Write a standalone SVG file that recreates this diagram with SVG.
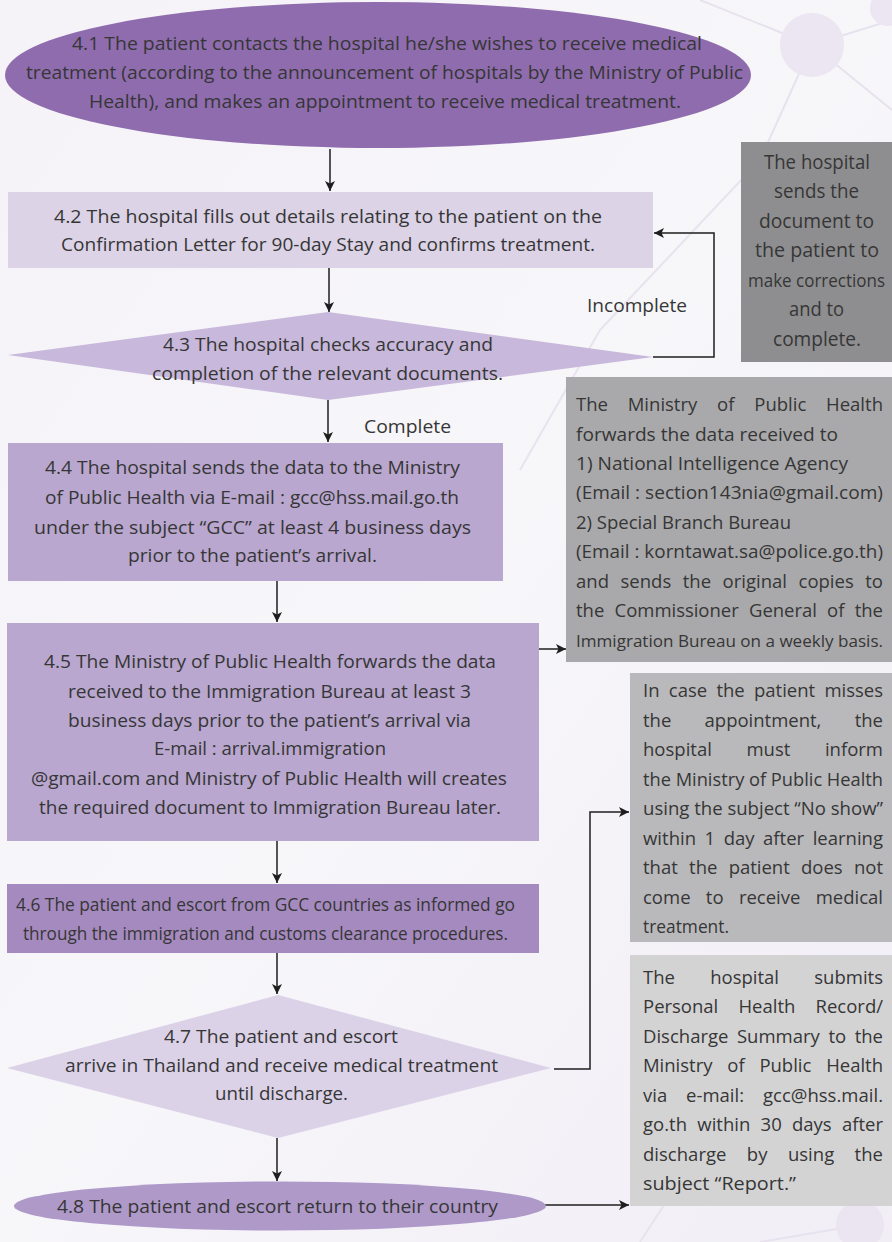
<svg xmlns="http://www.w3.org/2000/svg" width="892" height="1242" viewBox="0 0 892 1242">
<defs>
<marker id="ah" viewBox="0 0 10 10" refX="10" refY="5" markerWidth="11" markerHeight="10" markerUnits="userSpaceOnUse" orient="auto">
<path d="M0,0 L10,5 L0,10 L2.5,5 z" fill="#1e1e1e"/>
</marker>
<linearGradient id="bg" x1="0" y1="0" x2="1" y2="1">
<stop offset="0" stop-color="#f5f3f8"/>
<stop offset="0.5" stop-color="#f7f6f9"/>
<stop offset="1" stop-color="#f1eef6"/>
</linearGradient>
<style>
.t{font-family:"Open Sans","Noto Sans",sans-serif;font-size:18.5px;fill:#363636}
.g1{font-size:19.5px}
.nar{font-size:17px}
.c{stroke:#1e1e1e;stroke-width:1.5;fill:none;marker-end:url(#ah)}
.deco{stroke:#e6e1ed;stroke-width:2;fill:none}
.decoc{fill:#eae5f1}
</style>
</defs>
<rect x="0" y="0" width="892" height="1242" fill="url(#bg)"/>
<g id="background-decoration" opacity="0.9">
<path class="deco" d="M812,45 L892,20 M812,45 L760,160 M812,45 L700,0 M812,45 L892,110 M760,160 L600,330 M600,330 L520,470 M640,1242 L700,1150 M860,1225 L892,1180 M860,1225 L760,1242"/>
<circle class="decoc" cx="812" cy="45" r="32"/>
<circle class="decoc" cx="888" cy="8" r="18"/>
<circle class="decoc" cx="860" cy="1225" r="24"/>
</g>
<g id="connectors">
<path class="c" d="M330,149 V191"/>
<path class="c" d="M329,268 V312"/>
<path class="c" d="M328,400 V442"/>
<path class="c" d="M653,357 H714 V233 H654"/>
<path class="c" d="M277,581 V622"/>
<path class="c" d="M539,649 H566"/>
<path class="c" d="M277,841 V883"/>
<path class="c" d="M277,953 V994"/>
<path class="c" d="M277,1138 V1181"/>
<path class="c" d="M554,1069 H590 V812 H629"/>
<path class="c" d="M545,1205 H629"/>
</g>
<g id="label-incomplete"><text class="t" x="587" y="312" textLength="100" lengthAdjust="spacingAndGlyphs">Incomplete</text></g>
<g id="label-complete"><text class="t" x="364" y="433" textLength="87" lengthAdjust="spacingAndGlyphs">Complete</text></g>
<g id="n41">
<ellipse cx="378" cy="75" rx="373" ry="73" fill="#8f6cae"/>
<text class="t" x="72" y="50" textLength="630" lengthAdjust="spacingAndGlyphs">4.1 The patient contacts the hospital he/she wishes to receive medical</text>
<text class="t" x="26" y="79" textLength="717" lengthAdjust="spacingAndGlyphs">treatment (according to the announcement of hospitals by the Ministry of Public</text>
<text class="t" x="89" y="108" textLength="592" lengthAdjust="spacingAndGlyphs">Health), and makes an appointment to receive medical treatment.</text>
</g>
<g id="n42">
<rect x="8" y="192" width="645" height="76" fill="#dcd3e7"/>
<text class="t" x="54" y="223" textLength="548" lengthAdjust="spacingAndGlyphs">4.2 The hospital fills out details relating to the patient on the</text>
<text class="t" x="61" y="251" textLength="534" lengthAdjust="spacingAndGlyphs">Confirmation Letter for 90-day Stay and confirms treatment.</text>
</g>
<g id="n43">
<polygon points="8,355 328,312 653,357 328,400" fill="#c8b8db"/>
<text class="t" x="163" y="351" textLength="330" lengthAdjust="spacingAndGlyphs">4.3 The hospital checks accuracy and</text>
<text class="t" x="152" y="380" textLength="351" lengthAdjust="spacingAndGlyphs">completion of the relevant documents.</text>
</g>
<g id="n-return">
<rect x="741" y="142" width="151" height="220" fill="#8e8e90"/>
<text class="t g1" x="764" y="169" textLength="106" lengthAdjust="spacingAndGlyphs">The hospital</text>
<text class="t g1" x="774" y="198" textLength="85" lengthAdjust="spacingAndGlyphs">sends the</text>
<text class="t g1" x="759" y="228" textLength="115" lengthAdjust="spacingAndGlyphs">document to</text>
<text class="t g1" x="755" y="257" textLength="124" lengthAdjust="spacingAndGlyphs">the patient to</text>
<text class="t" style="font-size:17.5px" x="748" y="287" textLength="137" lengthAdjust="spacingAndGlyphs">make corrections</text>
<text class="t g1" x="789" y="316" textLength="55" lengthAdjust="spacingAndGlyphs">and to</text>
<text class="t g1" x="773" y="346" textLength="88" lengthAdjust="spacingAndGlyphs">complete.</text>
</g>
<g id="n44">
<rect x="8" y="443" width="495" height="138" fill="#b9a7cf"/>
<text class="t" x="45" y="474" textLength="415" lengthAdjust="spacingAndGlyphs">4.4 The hospital sends the data to the Ministry</text>
<text class="t" x="45" y="504" textLength="414" lengthAdjust="spacingAndGlyphs">of Public Health via E-mail : gcc@hss.mail.go.th</text>
<text class="t" x="34" y="534" textLength="437" lengthAdjust="spacingAndGlyphs">under the subject “GCC” at least 4 business days</text>
<text class="t" x="128" y="562" textLength="249" lengthAdjust="spacingAndGlyphs">prior to the patient’s arrival.</text>
</g>
<g id="n-forward">
<rect x="566" y="377" width="326" height="285" fill="#a9a9ab"/>
<text class="t" x="576" y="411" textLength="307" lengthAdjust="spacing" style="word-spacing:15px">The Ministry of Public Health</text>
<text class="t" x="576" y="441" textLength="262" lengthAdjust="spacingAndGlyphs">forwards the data received to</text>
<text class="t" x="576" y="470" textLength="272" lengthAdjust="spacingAndGlyphs">1) National Intelligence Agency</text>
<text class="t" x="576" y="499" textLength="307" lengthAdjust="spacingAndGlyphs">(Email : section143nia@gmail.com)</text>
<text class="t" x="576" y="529" textLength="215" lengthAdjust="spacingAndGlyphs">2) Special Branch Bureau</text>
<text class="t" x="576" y="558" textLength="307" lengthAdjust="spacingAndGlyphs">(Email : korntawat.sa@police.go.th)</text>
<text class="t" x="576" y="588" textLength="307" lengthAdjust="spacing" style="word-spacing:6.7px">and sends the original copies to</text>
<text class="t" x="576" y="617" textLength="307" lengthAdjust="spacing" style="word-spacing:5.5px">the Commissioner General of the</text>
<text class="t nar" x="576" y="647" textLength="307" lengthAdjust="spacingAndGlyphs">Immigration Bureau on a weekly basis.</text>
</g>
<g id="n45">
<rect x="7" y="623" width="532" height="218" fill="#b9a7cf"/>
<text class="t" x="44" y="668" textLength="452" lengthAdjust="spacingAndGlyphs">4.5 The Ministry of Public Health forwards the data</text>
<text class="t" x="68" y="698" textLength="403" lengthAdjust="spacingAndGlyphs">received to the Immigration Bureau at least 3</text>
<text class="t" x="68" y="727" textLength="403" lengthAdjust="spacingAndGlyphs">business days prior to the patient’s arrival via</text>
<text class="t" x="154" y="755" textLength="232" lengthAdjust="spacingAndGlyphs">E-mail : arrival.immigration</text>
<text class="t" x="31" y="785" textLength="476" lengthAdjust="spacingAndGlyphs">@gmail.com and Ministry of Public Health will creates</text>
<text class="t" x="39" y="814" textLength="462" lengthAdjust="spacingAndGlyphs">the required document to Immigration Bureau later.</text>
</g>
<g id="n-noshow">
<rect x="630" y="673" width="262" height="269" fill="#b9b9bb"/>
<text class="t" x="643" y="697" textLength="240" lengthAdjust="spacing" style="word-spacing:4.5px">In case the patient misses</text>
<text class="t" x="643" y="727" textLength="240" lengthAdjust="spacing" style="word-spacing:28.5px">the appointment, the</text>
<text class="t" x="643" y="756" textLength="240" lengthAdjust="spacing" style="word-spacing:29.7px">hospital must inform</text>
<text class="t" x="643" y="786" textLength="240" lengthAdjust="spacingAndGlyphs">the Ministry of Public Health</text>
<text class="t" x="643" y="815" textLength="240" lengthAdjust="spacingAndGlyphs">using the subject “No show”</text>
<text class="t" x="643" y="845" textLength="240" lengthAdjust="spacing" style="word-spacing:3.7px">within 1 day after learning</text>
<text class="t" x="643" y="874" textLength="240" lengthAdjust="spacing" style="word-spacing:6.5px">that the patient does not</text>
<text class="t" x="643" y="904" textLength="240" lengthAdjust="spacing" style="word-spacing:10.5px">come to receive medical</text>
<text class="t" x="643" y="933" textLength="86" lengthAdjust="spacingAndGlyphs">treatment.</text>
</g>
<g id="n46">
<rect x="7" y="884" width="532" height="69" fill="#a58abf"/>
<text class="t" x="16" y="911" textLength="499" lengthAdjust="spacingAndGlyphs">4.6 The patient and escort from GCC countries as informed go</text>
<text class="t" x="23" y="940" textLength="485" lengthAdjust="spacingAndGlyphs">through the immigration and customs clearance procedures.</text>
</g>
<g id="n-report">
<rect x="630" y="955" width="262" height="251" fill="#d3d3d4"/>
<text class="t" x="643" y="984" textLength="240" lengthAdjust="spacing" style="word-spacing:30.4px">The hospital submits</text>
<text class="t" x="643" y="1013" textLength="240" lengthAdjust="spacing" style="word-spacing:15.4px">Personal Health Record/</text>
<text class="t" x="643" y="1043" textLength="240" lengthAdjust="spacing" style="word-spacing:3.7px">Discharge Summary to the</text>
<text class="t" x="643" y="1072" textLength="240" lengthAdjust="spacing" style="word-spacing:10px">Ministry of Public Health</text>
<text class="t" x="643" y="1102" textLength="240" lengthAdjust="spacing" style="word-spacing:14px">via e-mail: gcc@hss.mail.</text>
<text class="t" x="643" y="1131" textLength="240" lengthAdjust="spacing" style="word-spacing:5.4px">go.th within 30 days after</text>
<text class="t" x="643" y="1161" textLength="240" lengthAdjust="spacing" style="word-spacing:15.6px">discharge by using the</text>
<text class="t" x="643" y="1190" textLength="153" lengthAdjust="spacingAndGlyphs">subject “Report.”</text>
</g>
<g id="n47">
<polygon points="7,1068 278,995 551,1068 278,1138" fill="#dbd2e8"/>
<text class="t" x="164" y="1043" textLength="234" lengthAdjust="spacingAndGlyphs">4.7 The patient and escort</text>
<text class="t" x="65" y="1072" textLength="433" lengthAdjust="spacingAndGlyphs">arrive in Thailand and receive medical treatment</text>
<text class="t" x="215" y="1100" textLength="133" lengthAdjust="spacingAndGlyphs">until discharge.</text>
</g>
<g id="n48">
<ellipse cx="280" cy="1206" rx="266" ry="24.5" fill="#ae99c9"/>
<text class="t" x="57" y="1213" textLength="441" lengthAdjust="spacingAndGlyphs">4.8 The patient and escort return to their country</text>
</g>
</svg>
